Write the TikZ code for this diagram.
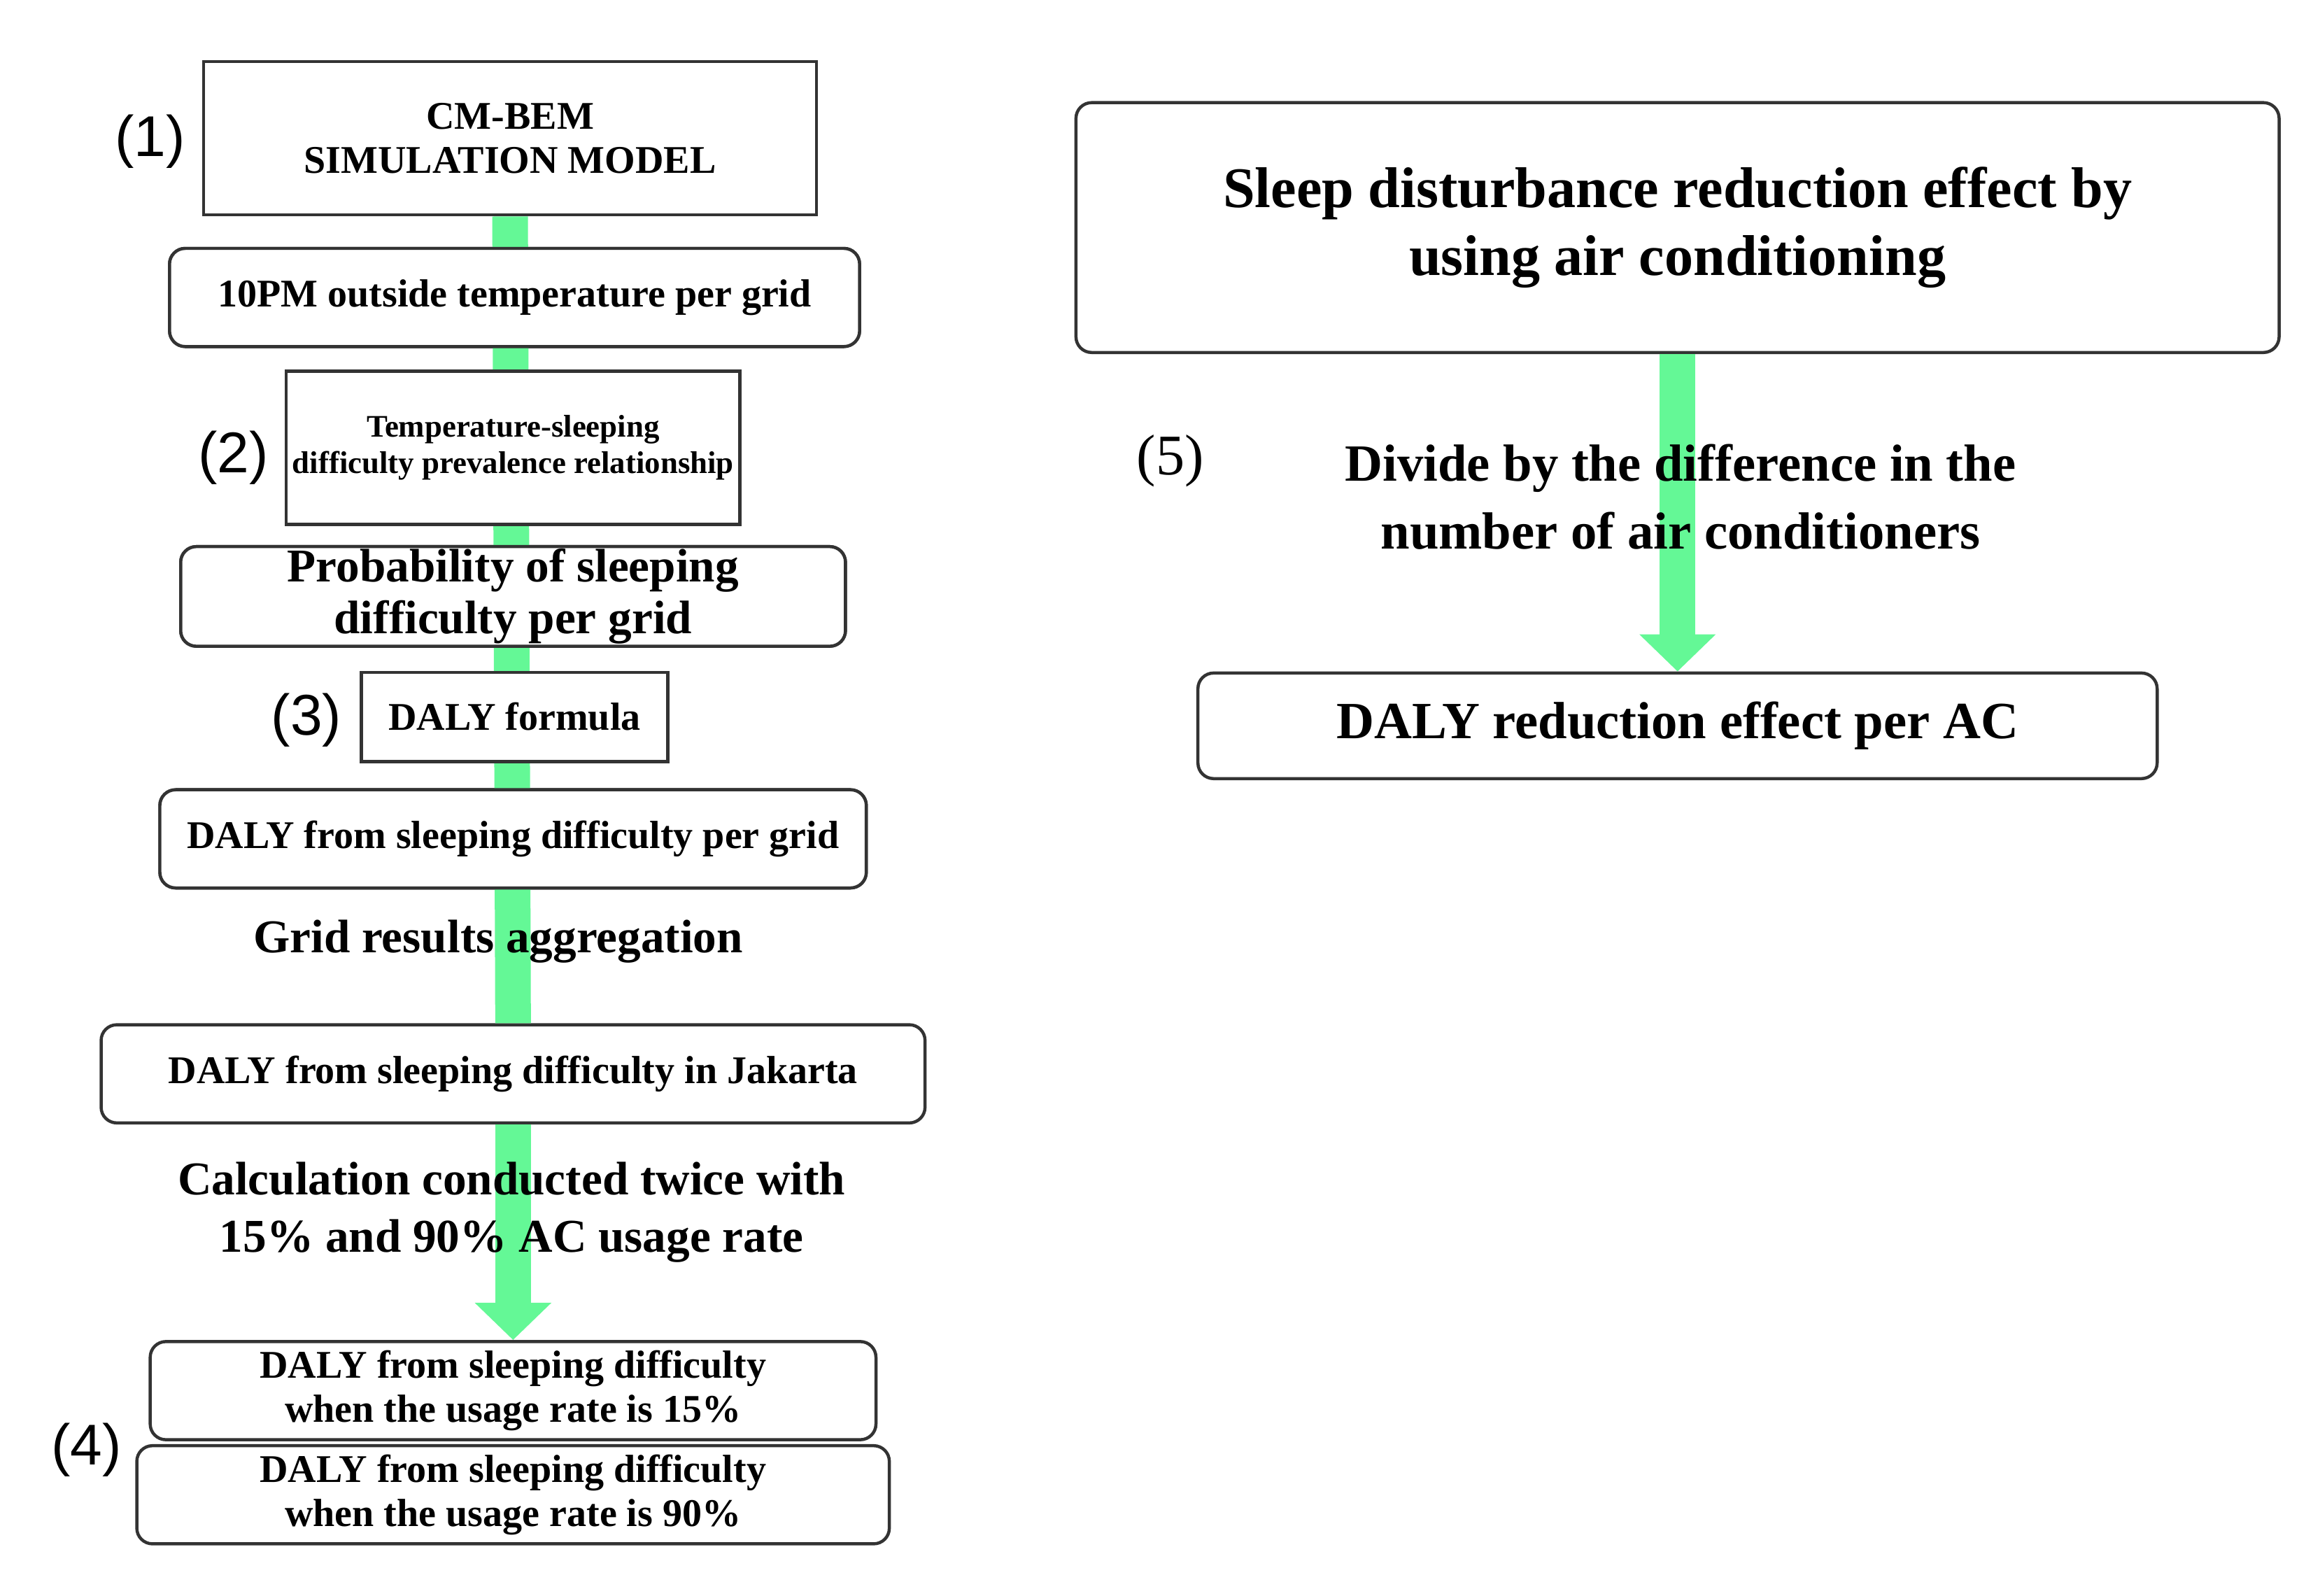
\documentclass[tikz,border=0pt]{standalone}
\usepackage{fontspec}
\setmainfont{Liberation Serif}
\newfontfamily\numfont{Liberation Sans}
\usetikzlibrary{arrows.meta}
\definecolor{flowgreen}{RGB}{100,248,150}
\begin{document}
\begin{tikzpicture}[x=0.02cm,y=-0.02cm,
    box/.style={draw=black!80,line width=1.2pt,fill=white,align=center,font=\bfseries,inner sep=0pt},
    rbox/.style={box,rounded corners=6pt},
    lbl/.style={font=\bfseries,align=center},
    num/.style={font=\numfont\fontsize{22}{24}\selectfont},
    flow/.style={flowgreen,line width=0.48cm}]
    \useasboundingbox (0,0) rectangle (1560,1073);

    % Kasten links
    \node[box,minimum width=412*0.02cm,minimum height=103*0.02cm,font=\bfseries\fontsize{15}{17}\selectfont] (cm) at (343,93) {CM-BEM\\SIMULATION MODEL};
    \node[rbox,minimum width=464*0.02cm,minimum height=66*0.02cm,font=\bfseries\fontsize{15}{17}\selectfont] (tmp) at (346,200) {10PM outside temperature per grid};
    \node[box,minimum width=305*0.02cm,minimum height=103*0.02cm,font=\bfseries\fontsize{12}{14}\selectfont] (rel) at (345,301) {Temperature-sleeping\\difficulty prevalence relationship};
    \node[rbox,minimum width=447*0.02cm,minimum height=67*0.02cm,font=\bfseries\fontsize{18}{20}\selectfont] (prob) at (345,401) {Probability of sleeping\\difficulty per grid};
    \node[box,minimum width=206*0.02cm,minimum height=60*0.02cm,font=\bfseries\fontsize{15}{17}\selectfont] (form) at (346,482) {DALY formula};
    \node[rbox,minimum width=475*0.02cm,minimum height=66*0.02cm,font=\bfseries\fontsize{15}{17}\selectfont] (grid) at (345,564) {DALY from sleeping difficulty per grid};
    \node[rbox,minimum width=554*0.02cm,minimum height=66*0.02cm,font=\bfseries\fontsize{15}{17}\selectfont] (jak) at (345,722) {DALY from sleeping difficulty in Jakarta};
    \node[rbox,minimum width=488*0.02cm,minimum height=66*0.02cm,font=\bfseries\fontsize{15}{17}\selectfont] (u15) at (345,935) {DALY from sleeping difficulty\\when the usage rate is 15\%};
    \node[rbox,minimum width=506*0.02cm,minimum height=66*0.02cm,font=\bfseries\fontsize{15}{17}\selectfont] (u90) at (345,1005) {DALY from sleeping difficulty\\when the usage rate is 90\%};

    % Kasten rechts
    \node[rbox,minimum width=809*0.02cm,minimum height=168*0.02cm,font=\bfseries\fontsize{22}{26}\selectfont] (sleep) at (1128,153) {Sleep disturbance reduction effect by\\using air conditioning};
    \node[rbox,minimum width=645*0.02cm,minimum height=71*0.02cm,font=\bfseries\fontsize{20}{22}\selectfont] (red) at (1128,488) {DALY reduction effect per AC};

    % Pfeile
    \begin{scope}[on background layer/.try]
    \end{scope}
    \draw[flow] (cm.south) -- (jak.north);
    \draw[flow,-{Triangle[length=0.5cm,width=1.0cm]}] (jak.south) -- (u15.north);
    \draw[flow,-{Triangle[length=0.5cm,width=1.0cm]}] (sleep.south) -- (red.north);
    \foreach \n in {tmp,rel,prob,form,grid,jak} {
        \node[draw=none,fill=none] at (\n) {};
    }
    % Kasten nochmal oben drauf
    \node[box,minimum width=412*0.02cm,minimum height=103*0.02cm,font=\bfseries\fontsize{15}{17}\selectfont] at (cm) {CM-BEM\\SIMULATION MODEL};
    \node[rbox,minimum width=464*0.02cm,minimum height=66*0.02cm,font=\bfseries\fontsize{15}{17}\selectfont] at (tmp) {10PM outside temperature per grid};
    \node[box,minimum width=305*0.02cm,minimum height=103*0.02cm,font=\bfseries\fontsize{12}{14}\selectfont] at (rel) {Temperature-sleeping\\difficulty prevalence relationship};
    \node[rbox,minimum width=447*0.02cm,minimum height=67*0.02cm,font=\bfseries\fontsize{18}{20}\selectfont] at (prob) {Probability of sleeping\\difficulty per grid};
    \node[box,minimum width=206*0.02cm,minimum height=60*0.02cm,font=\bfseries\fontsize{15}{17}\selectfont] at (form) {DALY formula};
    \node[rbox,minimum width=475*0.02cm,minimum height=66*0.02cm,font=\bfseries\fontsize{15}{17}\selectfont] at (grid) {DALY from sleeping difficulty per grid};

    % Beschriftungen
    \node[lbl,font=\bfseries\fontsize{18}{20}\selectfont] (agg) at (335,633) {Grid results aggregation};
    \node[lbl,font=\bfseries\fontsize{18}{22}\selectfont] (calc) at (344,815) {Calculation conducted twice with\\15\% and 90\% AC usage rate};
    \node[lbl,font=\bfseries\fontsize{20}{26}\selectfont] (div) at (1130,334) {Divide by the difference in the\\number of air conditioners};

    \node[num] (n1) at (101,95) {(1)};
    \node[num] (n2) at (157,308) {(2)};
    \node[num] (n3) at (206,484) {(3)};
    \node[num] (n4) at (58,975) {(4)};
    \node[num,font=\fontsize{22}{24}\selectfont] (n5) at (787,310) {(5)};
\end{tikzpicture}
\end{document}
